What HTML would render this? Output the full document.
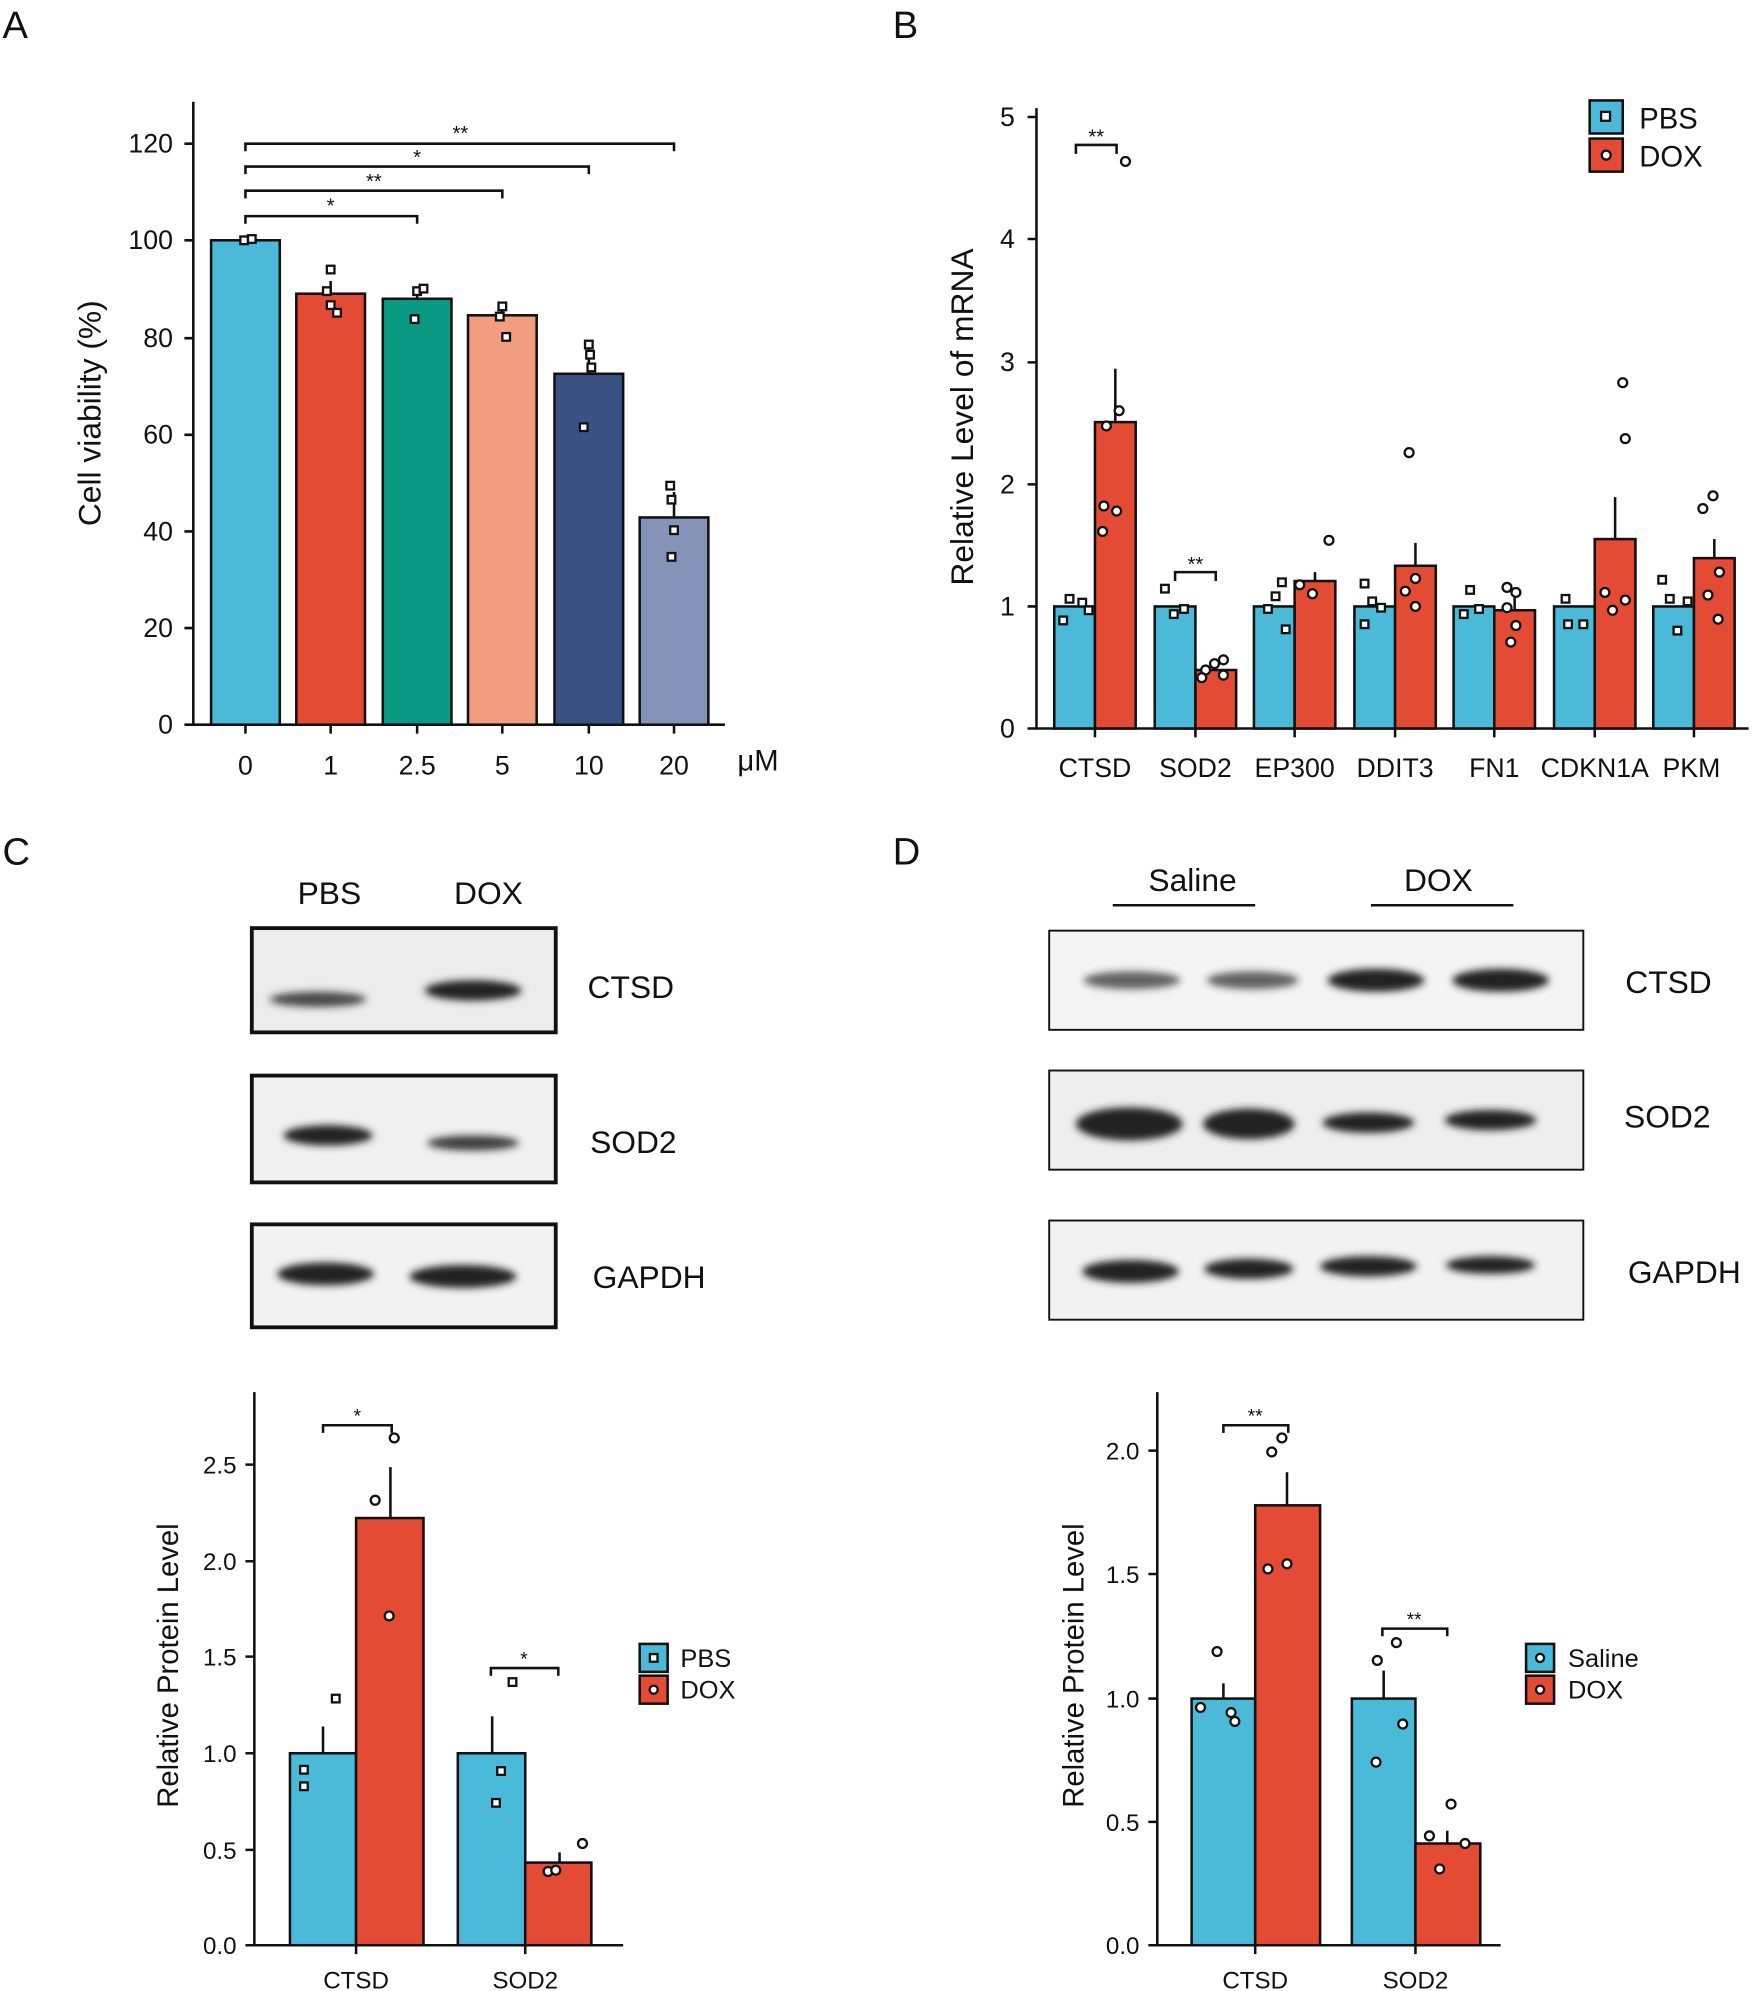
<!DOCTYPE html>
<html><head><meta charset="utf-8"><style>html,body{margin:0;padding:0;background:#fff}svg{display:block}text{font-family:"Liberation Sans",Arial,sans-serif;fill:#111}</style></head><body>
<svg width="1755" height="1991" viewBox="0 0 1380 1566" preserveAspectRatio="none" xmlns="http://www.w3.org/2000/svg">
<defs><filter id="bl" x="-20%" y="-100%" width="140%" height="300%"><feGaussianBlur stdDeviation="3"/></filter></defs>
<g font-size="30"><text x="2" y="30">A</text><text x="702" y="30">B</text><text x="2" y="680">C</text><text x="702" y="680">D</text></g>

<!-- Panel A -->
<g stroke="#111" stroke-width="2" fill="none">
<path d="M152 80V570H570"/>
<path d="M145 113H152M145 189H152M145 266H152M145 342H152M145 418H152M145 494H152M145 570H152"/>
<path d="M193 570v7M260 570v7M328 570v7M395 570v7M463 570v7M530 570v7"/>
<path d="M193 176v-6H328v6M193 156v-6H395v6M193 137v-6H463v6M193 119v-6H530v6"/>
</g>
<g font-size="21" text-anchor="end"><text x="136" y="120">120</text><text x="136" y="196">100</text><text x="136" y="273">80</text><text x="136" y="349">60</text><text x="136" y="425">40</text><text x="136" y="501">20</text><text x="136" y="577">0</text></g>
<g font-size="21" text-anchor="middle"><text x="193" y="609">0</text><text x="260" y="609">1</text><text x="328" y="609">2.5</text><text x="395" y="609">5</text><text x="463" y="609">10</text><text x="530" y="609">20</text><text x="596" y="606" font-size="23">μM</text>
<text x="260" y="167" font-size="16">*</text><text x="294" y="148" font-size="16">**</text><text x="328" y="129" font-size="16">*</text><text x="362" y="110" font-size="16">**</text></g>
<text transform="translate(79 325) rotate(-90)" font-size="25" text-anchor="middle">Cell viability (%)</text>
<g stroke="#111" stroke-width="2">
<rect x="166" y="189" width="54" height="381" fill="#4bbad8"/>
<rect x="233" y="231" width="54" height="339" fill="#e34b35"/>
<rect x="301" y="235" width="54" height="335" fill="#0a9a83"/>
<rect x="368" y="248" width="54" height="322" fill="#f29c80"/>
<rect x="436" y="294" width="54" height="276" fill="#3a5186"/>
<rect x="503" y="407" width="54" height="163" fill="#8693b8"/>
<path d="M260 231v-10M328 235v-7M395 248v-7M463 294v-20M530 407v-20" fill="none"/>
</g>
<g fill="#fff" stroke="#111" stroke-width="1.8">
<rect x="189" y="186" width="6" height="6"/><rect x="195" y="185" width="6" height="6"/>
<rect x="257" y="209" width="6" height="6"/><rect x="257" y="237" width="6" height="6"/><rect x="262" y="243" width="6" height="6"/><rect x="254" y="226" width="6" height="6"/>
<rect x="325" y="226" width="6" height="6"/><rect x="330" y="224" width="6" height="6"/><rect x="323" y="248" width="6" height="6"/>
<rect x="392" y="238" width="6" height="6"/><rect x="395" y="262" width="6" height="6"/><rect x="390" y="246" width="6" height="6"/>
<rect x="460" y="268" width="6" height="6"/><rect x="462" y="286" width="6" height="6"/><rect x="456" y="333" width="6" height="6"/><rect x="461" y="276" width="6" height="6"/>
<rect x="524" y="379" width="6" height="6"/><rect x="527" y="414" width="6" height="6"/><rect x="525" y="435" width="6" height="6"/><rect x="525" y="390" width="6" height="6"/>
</g>

<!-- Panel B -->
<g stroke="#111" stroke-width="2" fill="none">
<path d="M815 85V573H1375"/>
<path d="M808 92H815M808 188H815M808 285H815M808 381H815M808 477H815M808 573H815"/>
<path d="M861 573v7M940 573v7M1018 573v7M1097 573v7M1175 573v7M1254 573v7M1332 573v7"/>
<path d="M846 121v-7H878v7M924 457v-7H956v7"/>
</g>
<g font-size="21" text-anchor="end"><text x="798" y="99">5</text><text x="798" y="195">4</text><text x="798" y="292">3</text><text x="798" y="388">2</text><text x="798" y="484">1</text><text x="798" y="580">0</text></g>
<g font-size="21" text-anchor="middle"><text x="861" y="611">CTSD</text><text x="940" y="611">SOD2</text><text x="1018" y="611">EP300</text><text x="1097" y="611">DDIT3</text><text x="1175" y="611">FN1</text><text x="1254" y="611">CDKN1A</text><text x="1330" y="611">PKM</text>
<text x="862" y="113" font-size="16">**</text><text x="940" y="449" font-size="16">**</text></g>
<text transform="translate(765 328) rotate(-90)" font-size="25" text-anchor="middle">Relative Level of mRNA</text>
<g stroke="#111" stroke-width="2">
<rect x="829" y="477" width="32" height="96" fill="#4bbad8"/><rect x="861" y="332" width="32" height="241" fill="#e34b35"/>
<rect x="908" y="477" width="32" height="96" fill="#4bbad8"/><rect x="940" y="527" width="32" height="46" fill="#e34b35"/>
<rect x="986" y="477" width="32" height="96" fill="#4bbad8"/><rect x="1018" y="457" width="32" height="116" fill="#e34b35"/>
<rect x="1065" y="477" width="32" height="96" fill="#4bbad8"/><rect x="1097" y="445" width="32" height="128" fill="#e34b35"/>
<rect x="1143" y="477" width="32" height="96" fill="#4bbad8"/><rect x="1175" y="480" width="32" height="93" fill="#e34b35"/>
<rect x="1222" y="477" width="32" height="96" fill="#4bbad8"/><rect x="1254" y="424" width="32" height="149" fill="#e34b35"/>
<rect x="1300" y="477" width="32" height="96" fill="#4bbad8"/><rect x="1332" y="439" width="32" height="134" fill="#e34b35"/>
<path d="M877 332v-42M956 527v-5M1034 457v-7M1113 445v-18M1191 480v-15M1270 424v-33M1348 439v-15" fill="none"/>
</g>
<g fill="#fff" stroke="#111" stroke-width="1.8">
<rect x="838" y="468" width="6" height="6"/><rect x="848" y="471" width="6" height="6"/><rect x="833" y="485" width="6" height="6"/><rect x="853" y="477" width="6" height="6"/>
<rect x="913" y="460" width="6" height="6"/><rect x="920" y="480" width="6" height="6"/><rect x="928" y="476" width="6" height="6"/>
<rect x="1000" y="466" width="6" height="6"/><rect x="1005" y="455" width="6" height="6"/><rect x="1008" y="492" width="6" height="6"/><rect x="994" y="476" width="6" height="6"/>
<rect x="1070" y="456" width="6" height="6"/><rect x="1076" y="470" width="6" height="6"/><rect x="1070" y="488" width="6" height="6"/><rect x="1083" y="475" width="6" height="6"/>
<rect x="1153" y="461" width="6" height="6"/><rect x="1160" y="476" width="6" height="6"/><rect x="1148" y="480" width="6" height="6"/>
<rect x="1228" y="468" width="6" height="6"/><rect x="1230" y="488" width="6" height="6"/><rect x="1242" y="488" width="6" height="6"/>
<rect x="1304" y="453" width="6" height="6"/><rect x="1310" y="468" width="6" height="6"/><rect x="1316" y="493" width="6" height="6"/><rect x="1324" y="470" width="6" height="6"/>
<circle cx="885" cy="127" r="3.5"/><circle cx="880" cy="323" r="3.5"/><circle cx="870" cy="335" r="3.5"/><circle cx="868" cy="398" r="3.5"/><circle cx="878" cy="402" r="3.5"/><circle cx="867" cy="418" r="3.5"/>
<circle cx="948" cy="527" r="3.5"/><circle cx="955" cy="522" r="3.5"/><circle cx="962" cy="519" r="3.5"/><circle cx="962" cy="531" r="3.5"/><circle cx="945" cy="533" r="3.5"/>
<circle cx="1045" cy="425" r="3.5"/><circle cx="1022" cy="460" r="3.5"/><circle cx="1032" cy="467" r="3.5"/>
<circle cx="1108" cy="356" r="3.5"/><circle cx="1113" cy="455" r="3.5"/><circle cx="1105" cy="465" r="3.5"/><circle cx="1113" cy="477" r="3.5"/>
<circle cx="1185" cy="462" r="3.5"/><circle cx="1192" cy="466" r="3.5"/><circle cx="1185" cy="478" r="3.5"/><circle cx="1192" cy="492" r="3.5"/><circle cx="1188" cy="505" r="3.5"/>
<circle cx="1276" cy="301" r="3.5"/><circle cx="1278" cy="345" r="3.5"/><circle cx="1262" cy="466" r="3.5"/><circle cx="1278" cy="472" r="3.5"/><circle cx="1268" cy="480" r="3.5"/>
<circle cx="1347" cy="390" r="3.5"/><circle cx="1339" cy="400" r="3.5"/><circle cx="1352" cy="450" r="3.5"/><circle cx="1343" cy="468" r="3.5"/><circle cx="1351" cy="487" r="3.5"/>
</g>
<rect x="1250" y="79" width="26" height="26" fill="#4bbad8" stroke="#111" stroke-width="2"/><rect x="1259" y="88" width="7" height="7" fill="#fff" stroke="#111" stroke-width="1.8"/>
<rect x="1250" y="109" width="26" height="26" fill="#e34b35" stroke="#111" stroke-width="2"/><circle cx="1263" cy="122" r="3.5" fill="#fff" stroke="#111" stroke-width="1.8"/>
<text x="1289" y="101" font-size="23">PBS</text><text x="1289" y="131" font-size="23">DOX</text>

<!-- Panel C blots -->
<g font-size="25"><text x="234" y="711">PBS</text><text x="357" y="711">DOX</text><text x="462" y="785">CTSD</text><text x="464" y="907">SOD2</text><text x="466" y="1013">GAPDH</text></g>
<rect x="198" y="730" width="239" height="82" fill="#ececec" stroke="#111" stroke-width="3"/>
<rect x="198" y="846" width="239" height="84" fill="#f0f0f0" stroke="#111" stroke-width="3"/>
<rect x="198" y="963" width="239" height="81" fill="#f2f2f2" stroke="#111" stroke-width="3"/>
<g filter="url(#bl)" fill="#222">
<ellipse cx="250" cy="786" rx="38" ry="6" opacity="0.8"/><ellipse cx="372" cy="779" rx="38" ry="8"/>
<ellipse cx="258" cy="893" rx="35" ry="8"/><ellipse cx="372" cy="899" rx="36" ry="6" opacity="0.85"/>
<ellipse cx="256" cy="1002" rx="38" ry="9"/><ellipse cx="364" cy="1004" rx="42" ry="9"/>
</g>

<!-- Panel D blots -->
<g font-size="25"><text x="903" y="701">Saline</text><text x="1104" y="701">DOX</text><text x="1278" y="781">CTSD</text><text x="1277" y="887">SOD2</text><text x="1280" y="1009">GAPDH</text></g>
<path d="M875 712H987M1078 712H1190" stroke="#111" stroke-width="2"/>
<rect x="825" y="732" width="420" height="78" fill="#f4f4f4" stroke="#111" stroke-width="1.5"/>
<rect x="825" y="842" width="420" height="78" fill="#eeeeee" stroke="#111" stroke-width="1.5"/>
<rect x="825" y="960" width="420" height="78" fill="#f2f2f2" stroke="#111" stroke-width="1.5"/>
<g filter="url(#bl)" fill="#222">
<ellipse cx="890" cy="771" rx="38" ry="7" opacity="0.7"/><ellipse cx="985" cy="771" rx="36" ry="7" opacity="0.7"/><ellipse cx="1082" cy="771" rx="38" ry="9"/><ellipse cx="1180" cy="771" rx="38" ry="9"/>
<ellipse cx="888" cy="884" rx="42" ry="13"/><ellipse cx="982" cy="884" rx="36" ry="12"/><ellipse cx="1076" cy="883" rx="36" ry="8"/><ellipse cx="1172" cy="881" rx="36" ry="8"/>
<ellipse cx="889" cy="1000" rx="38" ry="9"/><ellipse cx="982" cy="998" rx="35" ry="8"/><ellipse cx="1076" cy="996" rx="38" ry="8"/><ellipse cx="1172" cy="995" rx="35" ry="7"/>
</g>

<!-- Panel C chart -->
<g stroke="#111" stroke-width="2" fill="none">
<path d="M200 1095V1530H490"/>
<path d="M193 1152H200M193 1228H200M193 1303H200M193 1379H200M193 1455H200M193 1530H200"/>
<path d="M280 1530v7M413 1530v7"/>
<path d="M254 1127v-6H308v6M386 1318v-6H439v6"/>
</g>
<g font-size="19" text-anchor="end"><text x="186" y="1159">2.5</text><text x="186" y="1235">2.0</text><text x="186" y="1310">1.5</text><text x="186" y="1386">1.0</text><text x="186" y="1462">0.5</text><text x="186" y="1537">0.0</text></g>
<g font-size="19" text-anchor="middle"><text x="280" y="1564">CTSD</text><text x="413" y="1564">SOD2</text><text x="281" y="1119" font-size="15">*</text><text x="412" y="1310" font-size="15">*</text></g>
<text transform="translate(140 1310) rotate(-90)" font-size="23" text-anchor="middle">Relative Protein Level</text>
<g stroke="#111" stroke-width="2">
<rect x="228" y="1379" width="52" height="151" fill="#4bbad8"/><rect x="280" y="1194" width="53" height="336" fill="#e34b35"/>
<rect x="360" y="1379" width="53" height="151" fill="#4bbad8"/><rect x="413" y="1465" width="52" height="65" fill="#e34b35"/>
<path d="M254 1379v-21M307 1194v-40M387 1379v-29M440 1465v-8" fill="none"/>
</g>
<g fill="#fff" stroke="#111" stroke-width="1.8">
<rect x="261" y="1333" width="6" height="6"/><rect x="236" y="1389" width="6" height="6"/><rect x="236" y="1402" width="6" height="6"/>
<rect x="400" y="1320" width="6" height="6"/><rect x="391" y="1390" width="6" height="6"/><rect x="387" y="1415" width="6" height="6"/>
<circle cx="310" cy="1131" r="3.5"/><circle cx="295" cy="1180" r="3.5"/><circle cx="306" cy="1271" r="3.5"/>
<circle cx="458" cy="1450" r="3.5"/><circle cx="431" cy="1472" r="3.5"/><circle cx="437" cy="1471" r="3.5"/>
</g>
<rect x="503" y="1293" width="22" height="22" fill="#4bbad8" stroke="#111" stroke-width="2"/><rect x="511" y="1301" width="6" height="6" fill="#fff" stroke="#111" stroke-width="1.8"/>
<rect x="503" y="1318" width="22" height="22" fill="#e34b35" stroke="#111" stroke-width="2"/><circle cx="514" cy="1329" r="3.2" fill="#fff" stroke="#111" stroke-width="1.8"/>
<text x="535" y="1311" font-size="20">PBS</text><text x="535" y="1336" font-size="20">DOX</text>

<!-- Panel D chart -->
<g stroke="#111" stroke-width="2" fill="none">
<path d="M910 1095V1530H1180"/>
<path d="M903 1141H910M903 1238H910M903 1336H910M903 1433H910M903 1530H910"/>
<path d="M987 1530v7M1113 1530v7"/>
<path d="M962 1127v-6H1013v6M1087 1287v-6H1138v6"/>
</g>
<g font-size="19" text-anchor="end"><text x="896" y="1148">2.0</text><text x="896" y="1245">1.5</text><text x="896" y="1343">1.0</text><text x="896" y="1440">0.5</text><text x="896" y="1537">0.0</text></g>
<g font-size="19" text-anchor="middle"><text x="987" y="1564">CTSD</text><text x="1113" y="1564">SOD2</text><text x="987" y="1119" font-size="15">**</text><text x="1112" y="1279" font-size="15">**</text></g>
<text transform="translate(852 1310) rotate(-90)" font-size="23" text-anchor="middle">Relative Protein Level</text>
<g stroke="#111" stroke-width="2">
<rect x="937" y="1336" width="50" height="194" fill="#4bbad8"/><rect x="987" y="1184" width="51" height="346" fill="#e34b35"/>
<rect x="1063" y="1336" width="50" height="194" fill="#4bbad8"/><rect x="1113" y="1450" width="51" height="80" fill="#e34b35"/>
<path d="M962 1336v-12M1012 1184v-26M1088 1336v-22M1138 1450v-10" fill="none"/>
</g>
<g fill="#fff" stroke="#111" stroke-width="1.8">
<circle cx="957" cy="1299" r="3.5"/><circle cx="944" cy="1343" r="3.5"/><circle cx="968" cy="1347" r="3.5"/><circle cx="971" cy="1354" r="3.5"/>
<circle cx="1000" cy="1142" r="3.5"/><circle cx="1008" cy="1131" r="3.5"/><circle cx="997" cy="1234" r="3.5"/><circle cx="1012" cy="1230" r="3.5"/>
<circle cx="1083" cy="1306" r="3.5"/><circle cx="1098" cy="1292" r="3.5"/><circle cx="1103" cy="1356" r="3.5"/><circle cx="1082" cy="1386" r="3.5"/>
<circle cx="1141" cy="1419" r="3.5"/><circle cx="1124" cy="1444" r="3.5"/><circle cx="1152" cy="1450" r="3.5"/><circle cx="1132" cy="1470" r="3.5"/>
</g>
<rect x="1200" y="1293" width="22" height="22" fill="#4bbad8" stroke="#111" stroke-width="2"/><circle cx="1211" cy="1304" r="3.2" fill="#fff" stroke="#111" stroke-width="1.8"/>
<rect x="1200" y="1318" width="22" height="22" fill="#e34b35" stroke="#111" stroke-width="2"/><circle cx="1211" cy="1329" r="3.2" fill="#fff" stroke="#111" stroke-width="1.8"/>
<text x="1233" y="1311" font-size="20">Saline</text><text x="1233" y="1336" font-size="20">DOX</text>
</svg>
</body></html>
